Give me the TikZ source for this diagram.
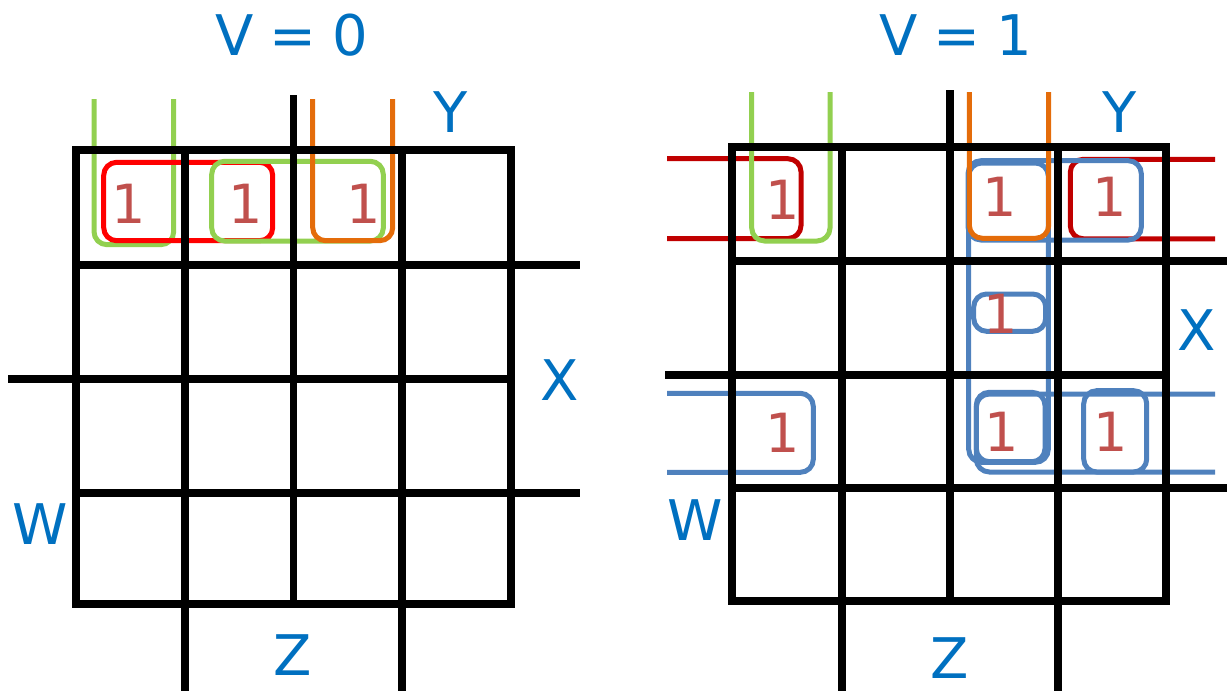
\documentclass[tikz,border=0pt]{standalone}
\usepackage{fontspec}
\setmainfont{DejaVu Sans}
\definecolor{labelblue}{HTML}{0070C0}
\definecolor{onered}{HTML}{C0504D}
\definecolor{loopred}{HTML}{FF0000}
\definecolor{darkred}{HTML}{C00000}
\definecolor{loopgreen}{HTML}{92D050}
\definecolor{looporange}{HTML}{E46C0A}
\definecolor{loopblue}{HTML}{4F81BD}
\tikzset{
  grid/.style={line width=7.5pt, black, line join=miter},
  loop/.style={line width=5pt, rounded corners=13pt},
  varlabel/.style={text=labelblue, font=\fontsize{56}{58}\selectfont, inner sep=0pt},
  title/.style={text=labelblue, font=\fontsize{56}{58}\selectfont, inner sep=0pt},
  one/.style={text=onered, font=\fontsize{54}{56}\selectfont, inner sep=0pt},
}
\begin{document}
\begin{tikzpicture}[x=1pt,y=-1pt]
\useasboundingbox (0,0) rectangle (1227,691);
% ---------------- left map loops ----------------
\draw[loop, loopgreen] (94,99) -- (94,244.7) -- (173.7,244.7) -- (173.7,99);
\draw[loop, loopred] (103.7,162.3) rectangle (272.7,240.7);
\draw[loop, loopgreen] (211.7,161.3) rectangle (383.3,241);
\draw[loop, looporange] (312.7,99) -- (312.7,240.7) -- (392.7,240.7) -- (392.7,99);
% ---------------- right map loops ----------------
\draw[loop, darkred] (667,158.7) -- (801,158.7) -- (801,238.5) -- (667,238.5);
\draw[loop, darkred] (1215,159.3) -- (1070.3,159.3) -- (1070.3,238.8) -- (1215,238.8);
\draw[loop, loopgreen] (751.7,92) -- (751.7,241) -- (830,241) -- (830,92);
\draw[loop, loopblue] (968,160.7) rectangle (1141.3,240);
\draw[loop, loopblue] (968.7,163) rectangle (1048.3,462.3);
\draw[loop, loopblue] (973.7,294) rectangle (1045.7,331.3);
\draw[loop, loopblue] (976.3,392.3) rectangle (1045,461.7);
\draw[loop, loopblue] (1215,394) -- (976.3,394) -- (976.3,472) -- (1215,472);
\draw[loop, loopblue] (1083.7,390.7) rectangle (1146.7,472);
\draw[loop, loopblue] (667,393.3) -- (813.3,393.3) -- (813.3,472.3) -- (667,472.3);
\draw[loop, looporange] (969.3,92) -- (969.3,238.3) -- (1048.7,238.3) -- (1048.7,92);
% ---------------- left grid ----------------
\draw[grid] (76,150) rectangle (511,604);
\draw[grid] (293.5,95) -- (293.5,604);
\draw[grid] (185,150) -- (185,691);
\draw[grid] (402,150) -- (402,691);
\draw[grid] (76,265) -- (580,265);
\draw[grid] (8,379) -- (511,379);
\draw[grid] (76,493) -- (580,493);
% ---------------- right grid ----------------
\draw[grid] (732,147) rectangle (1166,601);
\draw[grid] (950,90) -- (950,601);
\draw[grid] (842,147) -- (842,691);
\draw[grid] (1058,147) -- (1058,691);
\draw[grid] (732,261) -- (1227,261);
\draw[grid] (665,375) -- (1166,375);
\draw[grid] (732,488) -- (1227,488);
% ---------------- labels ----------------
\node[title] (t0) at (292,35) {V\hspace{0.28em}=\hspace{0.28em}0};
\node[title] (t1) at (956,35) {V\hspace{0.28em}=\hspace{0.28em}1};
\node[varlabel] (lY) at (451,112) {Y};
\node[varlabel] (lX) at (560,380) {X};
\node[varlabel] (lW) at (40,524) {W};
\node[varlabel] (lZ) at (293,655) {Z};
\node[varlabel] (rY) at (1120,112) {Y};
\node[varlabel] (rX) at (1197,330) {X};
\node[varlabel] (rW) at (695,520) {W};
\node[varlabel] (rZ) at (950,658) {Z};
% ---------------- ones ----------------
\node[one] (a1) at (129,204) {1};
\node[one] (a2) at (246,204) {1};
\node[one] (a3) at (364,204) {1};
\node[one] (b1) at (783,200) {1};
\node[one] (b2) at (1000,197) {1};
\node[one] (b3) at (1110,197) {1};
\node[one] (b4) at (1001,314) {1};
\node[one] (b5) at (783,433) {1};
\node[one] (b6) at (1002,432) {1};
\node[one] (b7) at (1111,432) {1};
\end{tikzpicture}
\end{document}
